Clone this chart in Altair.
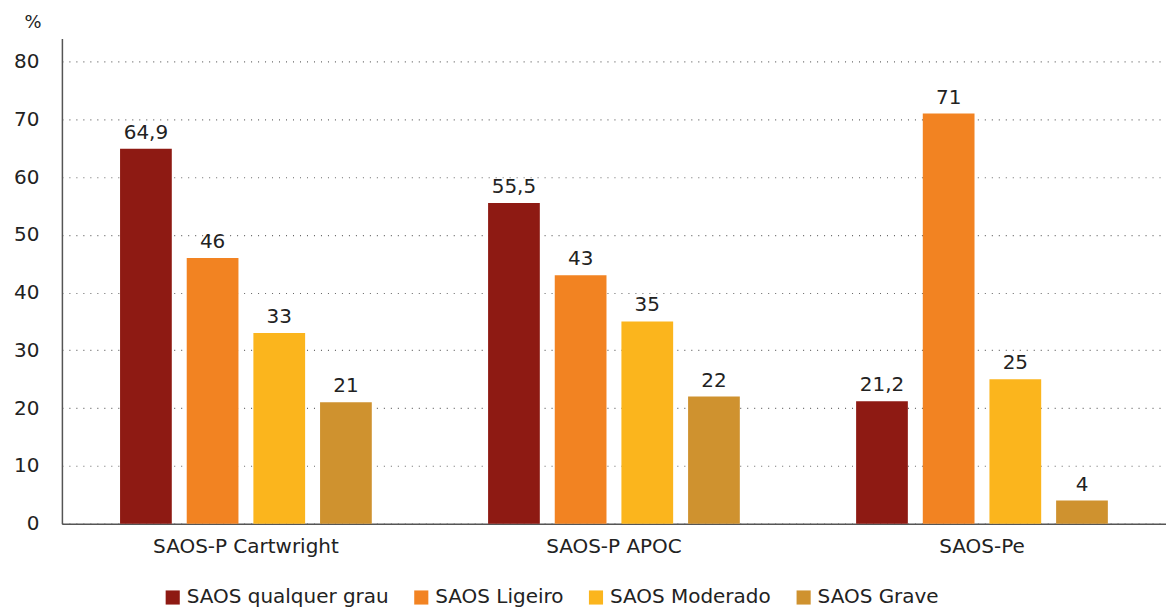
import altair as alt
import pandas as pd

groups = ["SAOS-P Cartwright", "SAOS-P APOC", "SAOS-Pe"]
series = ["SAOS qualquer grau", "SAOS Ligeiro", "SAOS Moderado", "SAOS Grave"]
colors = ["#8E1A13", "#F28322", "#FBB51D", "#CF922F"]
values = {
    "SAOS qualquer grau": [64.9, 55.5, 21.2],
    "SAOS Ligeiro": [46, 43, 71],
    "SAOS Moderado": [33, 35, 25],
    "SAOS Grave": [21, 22, 4],
}

rows = []
for s in series:
    for g, v in zip(groups, values[s]):
        lab = (f"{v:g}").replace(".", ",")
        rows.append({"grupo": g, "serie": s, "valor": v, "rotulo": lab})
df = pd.DataFrame(rows)

FONT = "DejaVu Sans"

x = alt.X("grupo:N", sort=groups, title=None,
          scale=alt.Scale(paddingInner=0.316, paddingOuter=0.158),
          axis=alt.Axis(labelAngle=0, labelFontSize=20, labelColor="#222",
                        labelPadding=13, ticks=False, domainColor="#555",
                        domainWidth=1.5, labelFont=FONT, grid=False,
                        labelLimit=400))
xo = alt.XOffset("serie:N", sort=series,
                 scale=alt.Scale(paddingInner=0.224, paddingOuter=0))
y = alt.Y("valor:Q", title="%",
          scale=alt.Scale(domain=[0, 84], nice=False),
          axis=alt.Axis(values=[0, 10, 20, 30, 40, 50, 60, 70, 80],
                        labelFontSize=20, labelColor="#222", labelFont=FONT,
                        ticks=False, labelPadding=23, domainColor="#555",
                        domainWidth=1.5, gridColor="#666", gridDash=[1, 6],
                        gridWidth=1.2, titleAngle=0, titleFontSize=18,
                        titleFontWeight="normal", titleFont=FONT,
                        titleColor="#222", titleX=-38, titleY=-7,
                        titleAlign="left"))
color = alt.Color("serie:N", sort=series,
                  scale=alt.Scale(domain=series, range=colors),
                  legend=alt.Legend(title=None, orient="none",
                                    legendX=101, legendY=550,
                                    direction="horizontal",
                                    symbolType="square", symbolSize=200,
                                    symbolStrokeWidth=0, labelFontSize=20,
                                    labelFont=FONT, labelColor="#222",
                                    labelLimit=400,
                                    columnPadding=22, symbolOffset=0,
                                    labelOffset=4))

base = alt.Chart(df).encode(x=x, xOffset=xo)
bars = base.mark_bar().encode(y=y, color=color)
text = base.mark_text(dy=-6, fontSize=20, font=FONT, color="#222",
                      baseline="bottom").encode(
    y=alt.Y("valor:Q"), text="rotulo:N")

chart = (bars + text).properties(
    width=1106, height=486,
    padding={"left": 5, "top": 5, "right": 0, "bottom": 0},
).configure_view(stroke=None, strokeWidth=0)

chart.save("out.html", embed_options={"renderer": "svg", "actions": False})
